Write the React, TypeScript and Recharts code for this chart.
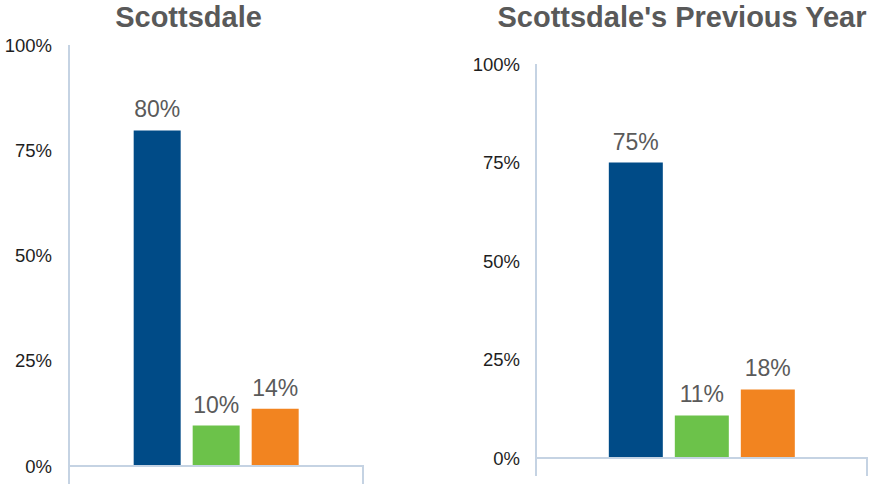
import React from 'react';
import { BarChart, Bar, XAxis, YAxis, LabelList } from 'recharts';

const seriesKeys = ['s0', 's1', 's2'];
const seriesColors = ['#004B87', '#6CC24A', '#F28420'];

const titles = ['Scottsdale', "Scottsdale's Previous Year"];
const categoryName = ['Scottsdale'];

const currentValues = [79.7, 9.6, 13.6];
const currentLabels = ['80%', '10%', '14%'];

const previousValues = [75, 10.8, 17.4];
const previousLabels = ['75%', '11%', '18%'];

const yTicks = [0, 25, 50, 75, 100];

const FONT = '"Liberation Sans", Arial, Helvetica, sans-serif';
const AXIS_COLOR = '#C5D3E3';

function buildRow(values: number[]) {
  const row: Record<string, any> = { name: categoryName[0] };
  seriesKeys.forEach((k, i) => {
    row[k] = values[i];
  });
  return [row];
}

function BoundaryTick(props: any) {
  const { x, y, bandWidth, length } = props;
  const half = bandWidth / 2;
  return (
    <g>
      <line x1={x - half} x2={x - half} y1={y - 1} y2={y + length} stroke={AXIS_COLOR} strokeWidth={2} />
      <line x1={x + half} x2={x + half} y1={y - 1} y2={y + length} stroke={AXIS_COLOR} strokeWidth={2} />
    </g>
  );
}

type PanelProps = {
  values: number[];
  labels: string[];
  width: number;
  left: number;
  top: number;
  right: number;
  yAxisWidth: number;
  xAxisHeight: number;
  tickOffset: number;
};

function Panel({ values, labels, width, left, top, right, yAxisWidth, xAxisHeight, tickOffset }: PanelProps) {
  const data = buildRow(values);
  const bandWidth = width - right - yAxisWidth;
  return (
    <div style={{ position: 'absolute', left, top: 0 }}>
      <BarChart
        width={width}
        height={484}
        data={data}
        margin={{ top, right, left: 0, bottom: 0 }}
        barCategoryGap="22%"
        barGap={12}
      >
        <XAxis
          dataKey="name"
          height={xAxisHeight}
          tickSize={0}
          tickMargin={0}
          tickLine={false}
          axisLine={{ stroke: AXIS_COLOR, strokeWidth: 2 }}
          tick={<BoundaryTick bandWidth={bandWidth} length={18} />}
          interval={0}
        />
        <YAxis
          width={yAxisWidth}
          domain={[0, 100]}
          ticks={yTicks}
          interval={0}
          tickFormatter={(v: number) => `${v}%`}
          tickLine={false}
          tickSize={tickOffset}
          tickMargin={0}
          axisLine={{ stroke: AXIS_COLOR, strokeWidth: 2 }}
          tick={{ fill: '#1E1E1E', fontSize: 18.5, fontFamily: FONT }}
        />
        {seriesKeys.map((k, i) => (
          <Bar key={k} dataKey={k} fill={seriesColors[i]} isAnimationActive={false}>
            <LabelList
              dataKey={k}
              position="top"
              offset={13}
              formatter={() => labels[i]}
              style={{ fill: '#5A5A5A', fontSize: 23, fontFamily: FONT }}
            />
          </Bar>
        ))}
      </BarChart>
    </div>
  );
}

export default function App() {
  return (
    <div style={{ position: 'absolute', left: 0, top: 0, width: 872, height: 484, background: '#fff', overflow: 'hidden' }}>
      <Panel
        values={currentValues}
        labels={currentLabels}
        width={380}
        left={0}
        top={45}
        right={17}
        yAxisWidth={69}
        xAxisHeight={18}
        tickOffset={17}
      />
      <Panel
        values={previousValues}
        labels={previousLabels}
        width={412}
        left={460}
        top={64}
        right={5}
        yAxisWidth={76}
        xAxisHeight={26}
        tickOffset={16}
      />
      <svg width={872} height={40} style={{ position: 'absolute', left: 0, top: 0 }}>
        <text x={188.5} y={27} textAnchor="middle" fontFamily={FONT} fontWeight="bold" fontSize={29} fill="#595959">
          {titles[0]}
        </text>
        <text x={682} y={27} textAnchor="middle" fontFamily={FONT} fontWeight="bold" fontSize={29} fill="#595959">
          {titles[1]}
        </text>
      </svg>
    </div>
  );
}
